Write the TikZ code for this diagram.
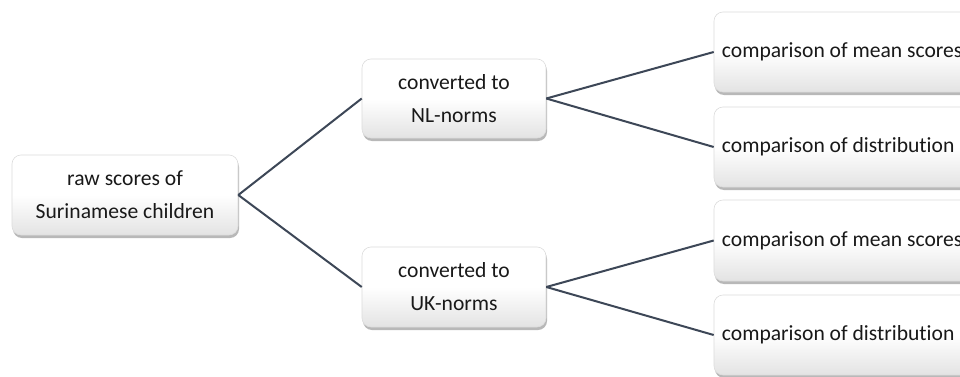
\documentclass[tikz,border=0pt]{standalone}
\usepackage{fontspec}
\setmainfont[Ligatures={NoCommon}]{Carlito}
\usetikzlibrary{shadows}
\definecolor{linecol}{HTML}{3D4757}
\definecolor{boxline}{HTML}{DCDCDC}
\tikzset{
  box/.style={draw=boxline, line width=0.6pt, rounded corners=9pt,
    top color=white, bottom color=black!11, middle color=white,
    drop shadow={shadow xshift=1pt, shadow yshift=-3pt, opacity=0.5, fill=black!55},
    font=\fontsize{21.6}{33}\selectfont, align=center, inner sep=0pt, text=black!90},
  rtext/.style={font=\fontsize{21.6}{33}\selectfont, anchor=west, inner sep=0pt, text=black!90},
  conn/.style={draw=linecol, line width=2pt}
}
\begin{document}
\begin{tikzpicture}[x=1pt,y=1pt]
\useasboundingbox (0,0) rectangle (960,376);
\clip (0,0) rectangle (960,376);
\fill[white] (0,0) rectangle (960,376);
\node[box, minimum width=226pt, minimum height=80pt] (root) at (125,181) {raw scores of\\Surinamese children};
\node[box, minimum width=184pt, minimum height=79pt] (nl) at (454,277.5) {converted to\\NL-norms};
\node[box, minimum width=184pt, minimum height=80pt] (uk) at (454,89) {converted to\\UK-norms};
\node[box, minimum width=290pt, minimum height=80pt] (m1) at (859,324) {};
\node[box, minimum width=290pt, minimum height=80pt] (d1) at (859,229) {};
\node[box, minimum width=290pt, minimum height=81pt] (m2) at (859,135.5) {};
\node[box, minimum width=290pt, minimum height=80pt] (d2) at (859,41) {};
\node[rtext] (m1t) at ([xshift=8pt]m1.west) {comparison of mean scores};
\node[rtext] (d1t) at ([xshift=8pt]d1.west) {comparison of distribution};
\node[rtext] (m2t) at ([xshift=8pt]m2.west) {comparison of mean scores};
\node[rtext] (d2t) at ([xshift=8pt]d2.west) {comparison of distribution};
\draw[conn] (root.east) -- (nl.west);
\draw[conn] (root.east) -- (uk.west);
\draw[conn] (nl.east) -- (m1.west);
\draw[conn] (nl.east) -- (d1.west);
\draw[conn] (uk.east) -- (m2.west);
\draw[conn] (uk.east) -- (d2.west);
\end{tikzpicture}
\end{document}
